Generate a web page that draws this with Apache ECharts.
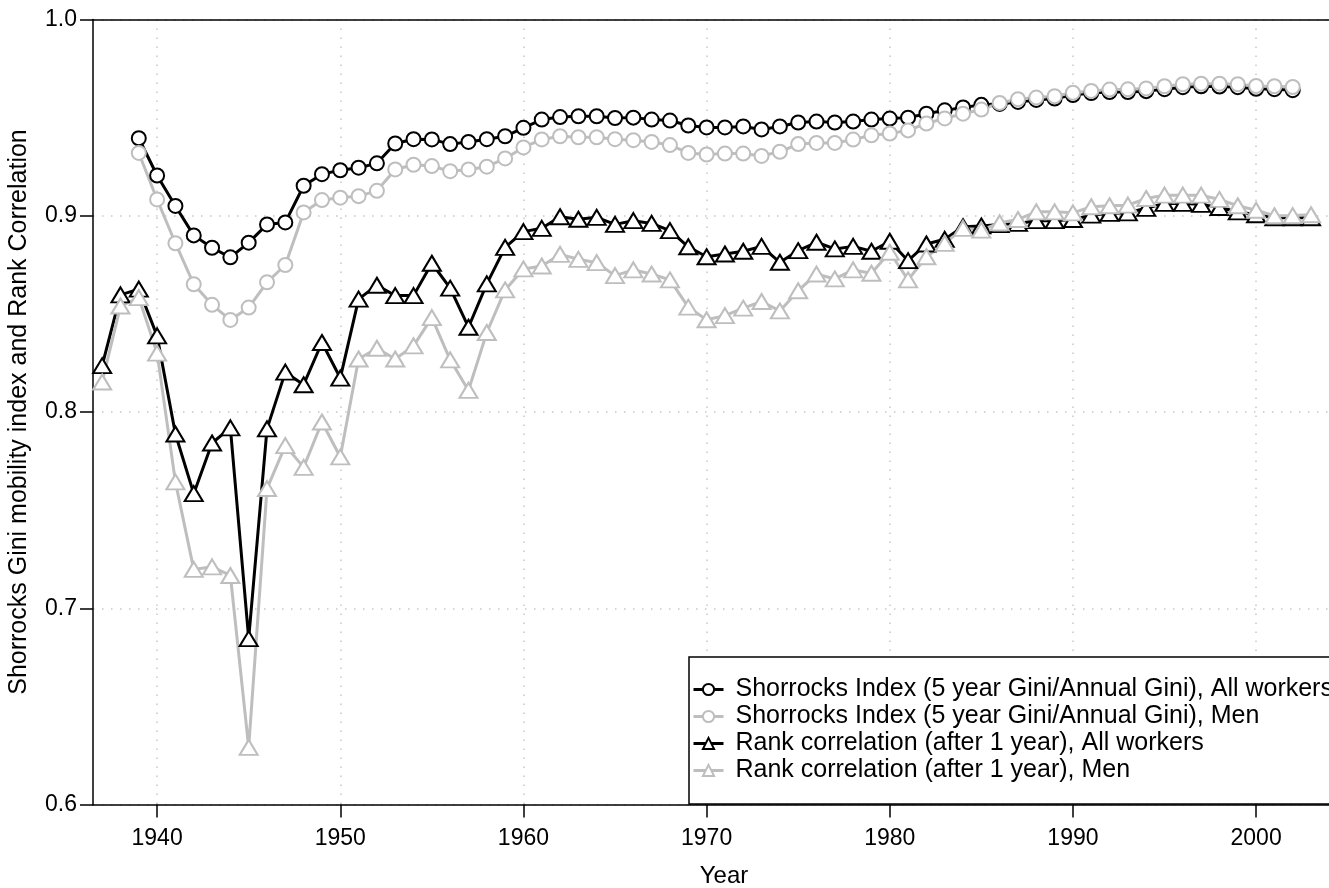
<!DOCTYPE html>
<html><head><meta charset="utf-8">
<script src="https://cdn.jsdelivr.net/npm/echarts@6/dist/echarts.min.js"></script>
<style>html,body{margin:0;padding:0;background:#fff}#c{width:1329px;height:888px}</style>
</head><body><div id="c"></div>
<script>
const FONT = '"Liberation Sans", Arial, Helvetica, sans-serif';
const seriesNames = [
  'Shorrocks Index (5 year Gini/Annual Gini), All workers',
  'Shorrocks Index (5 year Gini/Annual Gini), Men',
  'Rank correlation (after 1 year), All workers',
  'Rank correlation (after 1 year), Men'
];
const shorrocksStartYear = 1939;
const rankStartYear = 1937;
const xTickValues = [1940, 1950, 1960, 1970, 1980, 1990, 2000];

const shorrocksAll = [
  0.9395, 0.9205, 0.905, 0.890, 0.8837, 0.8788, 0.8863, 0.8956, 0.8966, 0.9153,
  0.9212, 0.9232, 0.9245, 0.9267, 0.9368, 0.939, 0.9389, 0.9365, 0.9376, 0.939,
  0.9405, 0.9448, 0.949, 0.9503, 0.9507, 0.9507, 0.9498, 0.950, 0.949, 0.9485,
  0.946, 0.945, 0.945, 0.9455, 0.944, 0.9455, 0.9475, 0.948, 0.9475, 0.948,
  0.949, 0.9495, 0.950, 0.952, 0.9537, 0.9552, 0.9565, 0.957, 0.958, 0.959,
  0.9597, 0.9615, 0.9625, 0.963, 0.963, 0.9635, 0.9645, 0.9655, 0.966, 0.9658,
  0.9655, 0.9647, 0.9645, 0.964
];
const shorrocksMen = [
  0.932, 0.9083, 0.886, 0.8651, 0.8546, 0.8469, 0.8532, 0.8661, 0.8749, 0.9017,
  0.908, 0.9092, 0.910, 0.9127, 0.9236, 0.926, 0.9253, 0.9227, 0.9236, 0.925,
  0.9292, 0.9348, 0.9389, 0.9405, 0.940, 0.940, 0.939, 0.9385, 0.9376, 0.936,
  0.932, 0.9312, 0.9317, 0.9317, 0.9305, 0.9326, 0.9365, 0.9371, 0.9371, 0.9388,
  0.941, 0.9419, 0.9435, 0.947, 0.9496, 0.952, 0.9541, 0.9575, 0.9594, 0.9602,
  0.9609, 0.9627, 0.9636, 0.9643, 0.9644, 0.9649, 0.966, 0.967, 0.9673, 0.9673,
  0.967, 0.9661, 0.966, 0.9656
];
const rankAll = [
  0.8236, 0.8597, 0.8626, 0.8388, 0.7888, 0.7584, 0.7842, 0.7919, 0.6845, 0.7914,
  0.8203, 0.8139, 0.8354, 0.8173, 0.8575, 0.8646, 0.8593, 0.8593, 0.8758, 0.8631,
  0.8432, 0.8653, 0.8839, 0.8919, 0.8936, 0.8995, 0.8982, 0.8992, 0.8956, 0.8975,
  0.8961, 0.8924, 0.8842, 0.8791, 0.8805, 0.8819, 0.8844, 0.8763, 0.8822, 0.8865,
  0.8831, 0.8844, 0.8819, 0.887, 0.8771, 0.8856, 0.888, 0.8944, 0.8948, 0.8955,
  0.8961, 0.8975, 0.8975, 0.8981, 0.9003, 0.9012, 0.9015, 0.9038, 0.9063, 0.9063,
  0.9058, 0.9042, 0.902, 0.9005, 0.899, 0.899, 0.899
];
const rankMen = [
  0.8153, 0.854, 0.8583, 0.830, 0.7644, 0.7198, 0.7211, 0.7167, 0.6291, 0.761,
  0.7829, 0.7718, 0.7949, 0.7771, 0.827, 0.8325, 0.827, 0.8337, 0.8481, 0.8266,
  0.811, 0.8405, 0.8622, 0.8729, 0.8744, 0.8803, 0.8778, 0.8761, 0.8695, 0.8724,
  0.8703, 0.8673, 0.8534, 0.847, 0.8491, 0.8529, 0.8563, 0.8515, 0.8618, 0.8703,
  0.8678, 0.8724, 0.8707, 0.8814, 0.8673, 0.8791, 0.8859, 0.8936, 0.8927, 0.8964,
  0.8981, 0.902, 0.902, 0.9015, 0.9046, 0.9051, 0.9054, 0.9088, 0.9105, 0.9105,
  0.9105, 0.9083, 0.9051, 0.9028, 0.900, 0.9001, 0.9005
];

function pairs(start, arr) { return arr.map((v, i) => [start + i, v]); }

const BLACK = '#000000';
const GREY = '#bebebe';

function mk(name, start, arr, color, symbol, size) {
  return {
    name: name, type: 'line', data: pairs(start, arr),
    symbol: symbol, symbolSize: size, showSymbol: true, showAllSymbol: true,
    lineStyle: { color: color, width: 3 },
    itemStyle: { color: '#ffffff', borderColor: color, borderWidth: 2 },
    emphasis: { disabled: true }, silent: true, animation: false
  };
}

const chart = echarts.init(document.getElementById('c'), null, { renderer: 'canvas' });
const dotted = { color: '#c8c8c8', width: 1.5, type: [1.5, 7.5] };
const axisLineStyle = { color: '#000', width: 1.5 };
chart.setOption({
  backgroundColor: '#ffffff',
  animation: false,
  textStyle: { fontFamily: FONT },
  grid: { left: 93, right: -26, top: 19.5, bottom: 83.5, show: false, containLabel: false, outerBoundsMode: 'none' },
  xAxis: [{
    type: 'value', min: 1936.5, max: 2005.4,
    name: 'Year', nameLocation: 'middle', nameGap: 60,
    nameTextStyle: { fontSize: 24, color: '#000', fontFamily: FONT },
    axisLine: { show: true, onZero: false, lineStyle: axisLineStyle },
    axisTick: { show: true, inside: false, length: 13, customValues: xTickValues, lineStyle: axisLineStyle },
    axisLabel: { customValues: xTickValues, formatter: v => String(v), fontSize: 23, color: '#000', margin: 23, fontFamily: FONT },
    splitLine: { show: true, lineStyle: dotted }
  }, {
    type: 'value', min: 1936.5, max: 2005.4, position: 'top',
    axisLine: { show: true, onZero: false, lineStyle: axisLineStyle },
    axisTick: { show: false }, axisLabel: { show: false }, splitLine: { show: false }
  }],
  yAxis: {
    type: 'value', min: 0.6, max: 1.0, interval: 0.1,
    name: 'Shorrocks Gini mobility index and Rank Correlation', nameLocation: 'middle', nameGap: 61,
    nameTextStyle: { fontSize: 25, color: '#000', fontFamily: FONT },
    axisLine: { show: true, onZero: false, lineStyle: axisLineStyle },
    axisTick: { show: true, inside: false, length: 13, lineStyle: axisLineStyle },
    axisLabel: { formatter: v => v.toFixed(1), fontSize: 23, color: '#000', margin: 16, fontFamily: FONT },
    splitLine: { show: true, lineStyle: dotted }
  },
  legend: {
    orient: 'vertical', left: 689, right: -120, top: 657, z: 10,
    backgroundColor: '#fff', borderColor: '#000', borderWidth: 1.5,
    padding: [19, 30, 20, 3], itemGap: 0,
    itemWidth: 30, itemHeight: 14,
    lineStyle: { width: 3 },
    textStyle: { fontSize: 25, color: '#000', lineHeight: 27, fontFamily: FONT, padding: [0, 0, 0, 7] },
    data: seriesNames
  },
  series: [
    mk(seriesNames[0], shorrocksStartYear, shorrocksAll, BLACK, 'circle', 14),
    mk(seriesNames[1], shorrocksStartYear, shorrocksMen, GREY, 'circle', 14),
    mk(seriesNames[2], rankStartYear, rankAll, BLACK, 'triangle', [18, 15]),
    mk(seriesNames[3], rankStartYear, rankMen, GREY, 'triangle', [18, 15])
  ]
});
</script></body></html>
